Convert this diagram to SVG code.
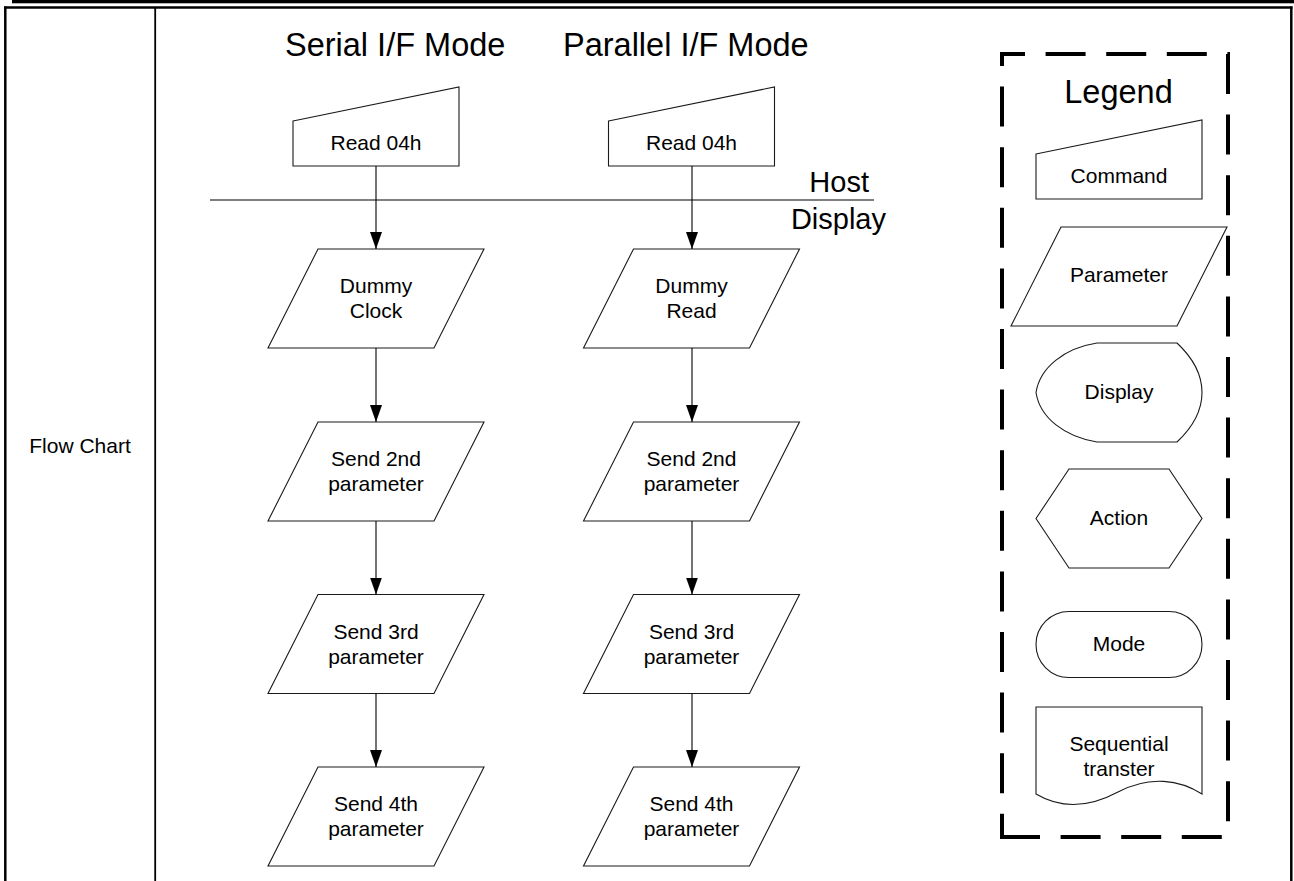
<svg xmlns="http://www.w3.org/2000/svg" width="1294" height="881" viewBox="0 0 1294 881">
<style>
  text { font-family: "Liberation Sans", Arial, sans-serif; fill: #000; }
  .t21 { font-size: 21px; text-anchor: middle; }
  .title { font-size: 32.5px; }
  .hd { font-size: 29px; text-anchor: end; }
  .shape { fill: #fff; stroke: #1a1a1a; stroke-width: 1.1; }
  .conn { stroke: #000; stroke-width: 1.1; fill: none; marker-end: url(#arr); }
  .frame { stroke: #000; fill: none; }
  .dash { stroke: #000; stroke-width: 4; stroke-dasharray: 40 20.6; fill: none; }
</style>
<defs>
  <marker id="arr" markerUnits="userSpaceOnUse" markerWidth="18" markerHeight="12" refX="17" refY="6" orient="auto">
    <path d="M0,0 L17,6 L0,12 Z" fill="#000"/>
  </marker>
  <polygon id="para" points="-58,0 108,0 58,99 -108,99"/>
  <polygon id="cmd" points="-83,-45 83,-79 83,0 -83,0"/>
</defs>
<rect width="1294" height="881" fill="#fff"/>

<g id="table">
  <rect x="12" y="0" width="1282" height="3.3" fill="#000"/>
  <line class="frame" x1="4" y1="7.5" x2="1292.5" y2="7.5" stroke-width="2.5"/>
  <line class="frame" x1="5.3" y1="6.5" x2="5.3" y2="881" stroke-width="2.5"/>
  <line class="frame" x1="1291.3" y1="6.5" x2="1291.3" y2="881" stroke-width="2.5"/>
  <line class="frame" x1="155.2" y1="7.5" x2="155.2" y2="881" stroke-width="1.8"/>
  <text x="80" y="453" class="t21">Flow Chart</text>
</g>

<g id="titles">
  <text class="title" x="285" y="56">Serial I/F Mode</text>
  <text class="title" x="563" y="56">Parallel I/F Mode</text>
</g>

<g id="host-display">
  <line x1="210" y1="200" x2="874" y2="200" stroke="#000" stroke-width="1.1"/>
  <text class="hd" x="869" y="192">Host</text>
  <text class="hd" x="886" y="229">Display</text>
</g>

<g id="serial-read04h" transform="translate(376,166)">
  <use href="#cmd" class="shape"/>
  <text class="t21" x="0" y="-16">Read 04h</text>
</g>
<g id="parallel-read04h" transform="translate(691.5,166)">
  <use href="#cmd" class="shape"/>
  <text class="t21" x="0" y="-16">Read 04h</text>
</g>

<g id="serial-dummy-clock" transform="translate(376,249)">
  <use href="#para" class="shape"/>
  <text class="t21" x="0" y="44">Dummy</text>
  <text class="t21" x="0" y="69">Clock</text>
</g>
<g id="serial-send2" transform="translate(376,422)">
  <use href="#para" class="shape"/>
  <text class="t21" x="0" y="44">Send 2nd</text>
  <text class="t21" x="0" y="69">parameter</text>
</g>
<g id="serial-send3" transform="translate(376,594.5)">
  <use href="#para" class="shape"/>
  <text class="t21" x="0" y="44">Send 3rd</text>
  <text class="t21" x="0" y="69">parameter</text>
</g>
<g id="serial-send4" transform="translate(376,767)">
  <use href="#para" class="shape"/>
  <text class="t21" x="0" y="44">Send 4th</text>
  <text class="t21" x="0" y="69">parameter</text>
</g>

<g id="parallel-dummy-read" transform="translate(691.5,249)">
  <use href="#para" class="shape"/>
  <text class="t21" x="0" y="44">Dummy</text>
  <text class="t21" x="0" y="69">Read</text>
</g>
<g id="parallel-send2" transform="translate(691.5,422)">
  <use href="#para" class="shape"/>
  <text class="t21" x="0" y="44">Send 2nd</text>
  <text class="t21" x="0" y="69">parameter</text>
</g>
<g id="parallel-send3" transform="translate(691.5,594.5)">
  <use href="#para" class="shape"/>
  <text class="t21" x="0" y="44">Send 3rd</text>
  <text class="t21" x="0" y="69">parameter</text>
</g>
<g id="parallel-send4" transform="translate(691.5,767)">
  <use href="#para" class="shape"/>
  <text class="t21" x="0" y="44">Send 4th</text>
  <text class="t21" x="0" y="69">parameter</text>
</g>

<g id="connectors">
  <path class="conn" d="M376,166 V249"/>
  <path class="conn" d="M376,348 V422"/>
  <path class="conn" d="M376,521 V594.5"/>
  <path class="conn" d="M376,693.5 V767"/>
  <path class="conn" d="M692,166 V249"/>
  <path class="conn" d="M692,348 V422"/>
  <path class="conn" d="M692,521 V594.5"/>
  <path class="conn" d="M692,693.5 V767"/>
</g>

<g id="legend">
  <line class="dash" x1="1002" y1="52" x2="1002" y2="839" stroke-dashoffset="26"/>
  <line class="dash" x1="1000" y1="54" x2="1230" y2="54" stroke-dashoffset="15"/>
  <line class="dash" x1="1228" y1="54" x2="1228" y2="839" stroke-dashoffset="0"/>
  <line class="dash" x1="1000" y1="837" x2="1230" y2="837" stroke-dashoffset="0"/>
  <text x="1118.5" y="103" style="font-size:32.5px;text-anchor:middle">Legend</text>
</g>

<g id="legend-command" transform="translate(1119,199)">
  <use href="#cmd" class="shape"/>
  <text class="t21" x="0" y="-16">Command</text>
</g>
<g id="legend-parameter" transform="translate(1119,227)">
  <use href="#para" class="shape"/>
  <text class="t21" x="0" y="55">Parameter</text>
</g>
<g id="legend-display">
  <path class="shape" d="M1097,343 H1177 C1193,358 1202,374 1202,392.5 C1202,411 1193,427 1177,442 H1097 C1065,437 1040,418 1036,392.5 C1040,367 1065,348 1097,343 Z"/>
  <text class="t21" x="1119" y="399">Display</text>
</g>
<g id="legend-action">
  <polygon class="shape" points="1036,518.5 1069,469 1169,469 1202,518.5 1169,568 1069,568"/>
  <text class="t21" x="1119" y="525">Action</text>
</g>
<g id="legend-mode">
  <rect class="shape" x="1036" y="611.5" width="166" height="66" rx="33" ry="33"/>
  <text class="t21" x="1119" y="651">Mode</text>
</g>
<g id="legend-sequential">
  <path class="shape" d="M1036,707 H1202 V794 C1180,780 1150,775 1118,792 C1090,807 1063,810 1036,794 Z"/>
  <text class="t21" x="1119" y="751">Sequential</text>
  <text class="t21" x="1119" y="776">transter</text>
</g>
</svg>
